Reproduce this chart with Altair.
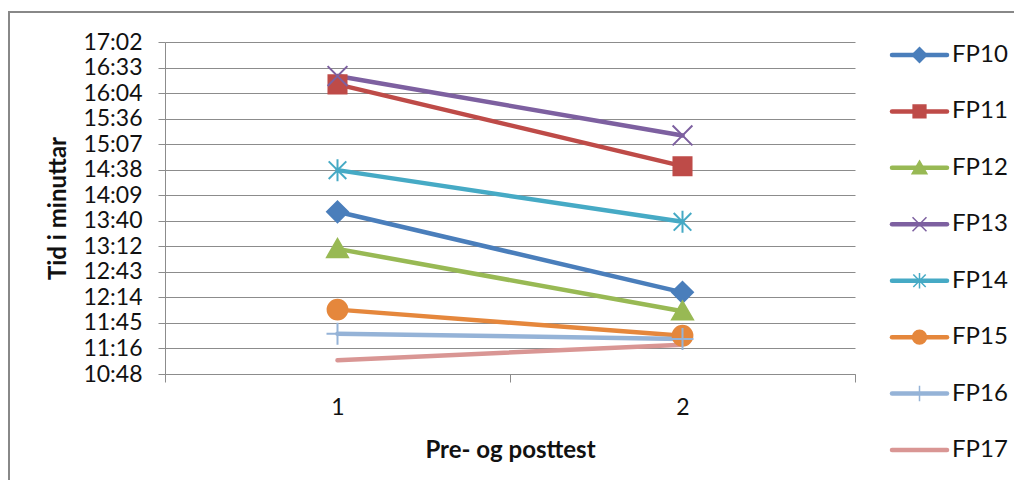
import altair as alt
import pandas as pd

# ---- data (time in minutes) ----
series = ["FP10", "FP11", "FP12", "FP13", "FP14", "FP15", "FP16", "FP17"]
tests = [1, 2]
pre = [830.9, 974.6, 789.1, 984.0, 877.9, 720.6, 693.5, 663.4]
post = [740.1, 882.4, 718.7, 917.0, 819.6, 691.2, 687.5, 681.1]
y_tick_values = [round(648 + 28.8 * i, 4) for i in range(14)]  # 10:48 ... 17:02

colors = ["#4A7EBB", "#BE4B48", "#98B954", "#7D60A0", "#46AAC5", "#E5873C", "#95B3D7", "#D99694"]
shapes = [
    "M0,-0.95L0.95,0L0,0.95L-0.95,0Z",                         # diamond
    "M-0.82,-0.82L0.82,-0.82L0.82,0.82L-0.82,0.82Z",           # square
    "M0,-0.9L0.95,0.75L-0.95,0.75Z",                           # triangle
    "M-0.9,-0.9L0.9,0.9M-0.9,0.9L0.9,-0.9",                    # x
    "M-0.8,-0.8L0.8,0.8M-0.8,0.8L0.8,-0.8M0,-1L0,1",           # asterisk
    "M-0.9,0A0.9,0.9 0 1,0 0.9,0A0.9,0.9 0 1,0 -0.9,0Z",       # circle
    "M-1,0L1,0M0,-1L0,1",                                      # plus
    "M0,0",                                                    # none
]

rows = []
for s, a, b in zip(series, pre, post):
    rows.append({"serie": s, "test": tests[0], "tid": a})
    rows.append({"serie": s, "test": tests[1], "tid": b})
df = pd.DataFrame(rows)
leg = pd.DataFrame({"serie": series})

FONT = "Lato"
GRAY = "#8c8c8c"
W, H = 690, 332

col_scale = alt.Scale(domain=series, range=colors)
shape_scale = alt.Scale(domain=series, range=shapes)
y_scale = alt.Scale(domain=[648, 1022.4], nice=False, zero=False)

x_enc = alt.X(
    "test:Q",
    scale=alt.Scale(domain=[0.5, 2.5], nice=False, zero=False),
    axis=alt.Axis(
        values=[0.5, 1, 1.5, 2, 2.5],
        labelExpr="datum.value % 1 == 0 ? '' + datum.value : ''",
        labelOverlap=False,
        grid=False,
        tickSize=8,
        tickOpacity={"condition": {"test": "datum.value % 1 == 0", "value": 0}, "value": 1},
        labelPadding=14,
        labelFontSize=23,
        title="Pre- og posttest",
        titleFontSize=24,
        titleFontWeight="bold",
        titlePadding=19,
    ),
)
y_enc = alt.Y(
    "tid:Q",
    scale=y_scale,
    axis=alt.Axis(
        values=y_tick_values,
        labelExpr="floor(datum.value / 60) + ':' + (floor(datum.value % 60 + 0.001) < 10 ? '0' : '') + floor(datum.value % 60 + 0.001)",
        labelOverlap=False,
        tickSize=7,
        labelPadding=16,
        labelFontSize=23,
        grid=True,
        title="Tid i minuttar",
        titleFontSize=24,
        titleFontWeight="bold",
        titlePadding=12,
    ),
)

base = alt.Chart(df)

lines = base.mark_line(strokeWidth=4.5, strokeCap="round", strokeJoin="round").encode(
    x=x_enc,
    y=y_enc,
    color=alt.Color("serie:N", scale=col_scale, legend=None),
    detail="serie:N",
)

points = base.transform_filter(alt.datum.serie != "FP17").mark_point(
    size=484, strokeWidth=2, opacity=1
).encode(
    x=x_enc,
    y=alt.Y("tid:Q", scale=y_scale, axis=None),
    fill=alt.Fill("serie:N", scale=col_scale, legend=None),
    stroke=alt.Stroke("serie:N", scale=col_scale, legend=None),
    shape=alt.Shape("serie:N", scale=shape_scale, legend=None),
)

leg_y = alt.Y("serie:N", scale=alt.Scale(type="point", domain=series, range=[13, 408], padding=0), axis=None)

leg_rules = alt.Chart(leg).mark_rule(strokeWidth=4.5, strokeCap="round").encode(
    x=alt.value(727), x2=alt.value(782), y=leg_y,
    color=alt.Color("serie:N", scale=col_scale, legend=None),
)
leg_points = alt.Chart(leg).transform_filter(alt.datum.serie != "FP17").mark_point(
    size=240, strokeWidth=1.5, opacity=1
).encode(
    x=alt.value(754.5), y=leg_y,
    fill=alt.Fill("serie:N", scale=col_scale, legend=None),
    stroke=alt.Stroke("serie:N", scale=col_scale, legend=None),
    shape=alt.Shape("serie:N", scale=shape_scale, legend=None),
)
leg_text = alt.Chart(leg).mark_text(
    align="left", baseline="middle", fontSize=24, font=FONT, color="#111111"
).encode(x=alt.value(787), y=leg_y, text="serie:N")

border_data = alt.Data(values=[{"k": 1}])
top_border = alt.Chart(border_data).mark_rule(color="#888888", strokeWidth=2).encode(
    x=alt.value(-157), x2=alt.value(W + 159), y=alt.value(-30)
)
left_border = alt.Chart(border_data).mark_rule(color="#888888", strokeWidth=2).encode(
    x=alt.value(-156), y=alt.value(-30), y2=alt.value(H + 106)
)

chart = alt.layer(
    lines, points, leg_rules, leg_points, leg_text, top_border, left_border
).resolve_scale(y="independent").properties(
    width=W, height=H,
    autosize=alt.AutoSizeParams(type="none"),
    padding={"left": 157, "top": 34, "right": 159, "bottom": 106},
).configure(font=FONT).configure_view(stroke=None).configure_axis(
    domainColor=GRAY, tickColor=GRAY, gridColor=GRAY, gridWidth=1,
    domainWidth=1, tickWidth=1, labelColor="#111111", titleColor="#111111",
    labelFont=FONT, titleFont=FONT,
)

chart.save("out.html", embed_options={"renderer": "svg", "actions": False})
